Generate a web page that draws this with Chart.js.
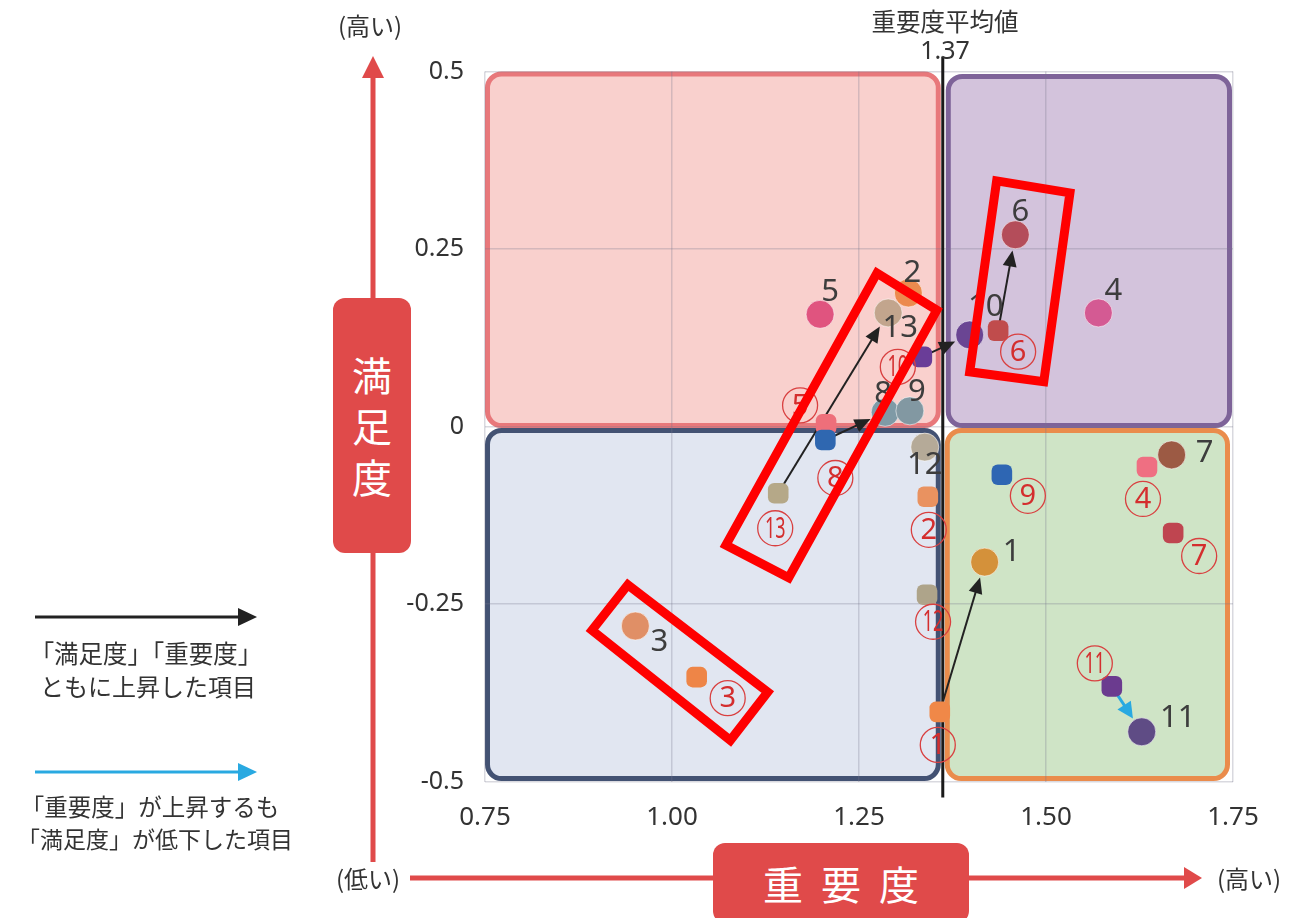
<!DOCTYPE html>
<html lang="ja">
<head>
<meta charset="utf-8">
<script src="https://cdn.jsdelivr.net/npm/chart.js@4.4.1/dist/chart.umd.min.js"></script>
<style>
  html, body { margin: 0; padding: 0; background: #fff; }
  #wrap { position: relative; width: 1297px; height: 918px; overflow: hidden;
          font-family: "Noto Sans CJK JP", "Noto Sans", sans-serif; color: #333; }
  #chart { position: absolute; left: 0; top: 0; }
  #deco { position: absolute; left: 0; top: 0; }
  .txt { position: absolute; white-space: nowrap; transform: translate(-50%, -50%); line-height: 1; }
  .redbox { position: absolute; background: #e04a4a; border-radius: 12px; color: #fff;
            display: flex; align-items: center; justify-content: center; font-size: 40px; }
</style>
</head>
<body>
<div id="wrap">
  <canvas id="chart" width="1297" height="918"></canvas>

  <svg id="deco" width="1297" height="918">
    <!-- satisfaction axis arrow -->
    <line x1="373" y1="862" x2="373" y2="76" stroke="#e04a4a" stroke-width="5"/>
    <polygon points="362,78 384,78 373,56" fill="#e04a4a"/>
    <!-- importance axis arrow -->
    <line x1="410" y1="878" x2="1186" y2="878" stroke="#e04a4a" stroke-width="5"/>
    <polygon points="1184,867 1184,889 1202,878" fill="#e04a4a"/>
    <!-- legend arrows -->
    <line x1="35" y1="617" x2="240" y2="617" stroke="#222" stroke-width="3"/>
    <polygon points="238,608 238,626 257,617" fill="#222"/>
    <line x1="35" y1="772" x2="240" y2="772" stroke="#29a9e1" stroke-width="3"/>
    <polygon points="238,763 238,781 257,772" fill="#29a9e1"/>
  </svg>

  <div class="redbox" style="left:333px; top:298px; width:78px; height:255px; flex-direction:column; line-height:51px;">
    <span>満</span><span>足</span><span>度</span>
  </div>
  <div class="redbox" style="left:713px; top:843px; width:256px; height:80px; letter-spacing:18px; padding-left:18px; box-sizing:border-box;">重要度</div>

  <div class="txt" style="left:370px; top:25px; font-size:24px;">(高い)</div>
  <div class="txt" style="left:368px; top:878px; font-size:24px;">(低い)</div>
  <div class="txt" style="left:1249px; top:878px; font-size:24px;">(高い)</div>

  <div class="txt" style="left:945px; top:21px; font-size:24.5px;">重要度平均値</div>
  <div class="txt" style="left:945px; top:49px; font-size:25px; font-family:'Noto Sans';">1.37</div>

  <div class="txt" style="left:146px; top:653px; font-size:24.5px;">「満足度」「重要度」</div>
  <div class="txt" style="left:148px; top:686px; font-size:24px;">ともに上昇した項目</div>
  <div class="txt" style="left:150px; top:807px; font-size:23.5px;">「重要度」が上昇するも</div>
  <div class="txt" style="left:155px; top:838px; font-size:23px;">「満足度」が低下した項目</div>
</div>

<script>
// ---- data ----
const items = ['1', '2', '3', '4', '5', '6', '7', '8', '9', '10', '11', '12', '13'];

// this year (circles)
const currImportance   = [1.418, 1.316, 0.951, 1.570, 1.198, 1.459, 1.668, 1.285, 1.318, 1.398, 1.628, 1.338, 1.289];
const currSatisfaction = [-0.191, 0.188, -0.281, 0.160, 0.158, 0.270, -0.040, 0.020, 0.022, 0.129, -0.430, -0.029, 0.160];

// previous survey (squares, circled numbers)
const prevImportance   = [1.358, 1.342, 1.033, 1.635, 1.206, 1.436, 1.670, 1.205, 1.441, 1.334, 1.588, 1.341, 1.142];
const prevSatisfaction = [-0.402, -0.099, -0.353, -0.057, 0.003, 0.135, -0.150, -0.019, -0.068, 0.098, -0.366, -0.237, -0.094];

// items with an arrow (index into the arrays above)
const bothUpItems = [0, 5, 7, 9, 12];   // black arrows
const satDownItems = [10];              // blue arrow

const xTicks = [0.75, 1.00, 1.25, 1.50, 1.75];
const xTickLabels = ['0.75', '1.00', '1.25', '1.50', '1.75'];
const yTicks = [-0.5, -0.25, 0, 0.25, 0.5];
const yTickLabels = ['-0.5', '-0.25', '0', '0.25', '0.5'];

const MEAN_IMPORTANCE = 1.362; // where the mean line sits in the picture (labelled 1.37)

// highlight frames (corners in data units)
const highlights = [
    [[0.941, -0.223], [1.128, -0.374], [1.078, -0.442], [0.893, -0.287]],
    [[1.274, 0.216], [1.354, 0.164], [1.156, -0.213], [1.072, -0.167]],
    [[1.434, 0.346], [1.532, 0.329], [1.497, 0.063], [1.398, 0.077]]
];

// ---- styles ----
const currColors = ['#d4913a', '#ec8a4e', '#e08f66', '#d45a93', '#e0547f', '#b44d5a', '#9c5a44',
                    '#7f9aa6', '#8298a2', '#6a4593', '#5f4c85', '#b5aa98', '#c2a58d'];
const prevColors = ['#f08848', '#e99260', '#ee8547', '#ef6f82', '#ee6f7a', '#c04c4c', '#bf4550',
                    '#2f67b0', '#2e66b3', '#6a3d98', '#6b3b8f', '#aea48a', '#b5a888'];
const currLabelOffset = [[27, -10], [4, -20], [24, 16], [15, -22], [10, -22], [5, -23], [33, -2],
                         [-2, -18], [7, -19], [16, -28], [36, -14], [0, 18], [12, 15]];
const prevLabelOffset = [[-2, 33], [1, 33], [31, 21], [-4, 32], [-26, -19], [20, 21], [26, 23],
                         [10, 38], [26, 21], [-24, 10], [-17, -23], [6, 27], [-3, 35]];

const CIRCLE_R = 14;

function roundRect(ctx, x1, y1, x2, y2, r) {
    ctx.beginPath();
    ctx.moveTo(x1 + r, y1);
    ctx.arcTo(x2, y1, x2, y2, r);
    ctx.arcTo(x2, y2, x1, y2, r);
    ctx.arcTo(x1, y2, x1, y1, r);
    ctx.arcTo(x1, y1, x2, y1, r);
    ctx.closePath();
}

function drawArrow(ctx, x1, y1, x2, y2, color, width, head, half) {
    const a = Math.atan2(y2 - y1, x2 - x1);
    const c = Math.cos(a), s = Math.sin(a);
    ctx.strokeStyle = color;
    ctx.fillStyle = color;
    ctx.lineWidth = width;
    ctx.beginPath();
    ctx.moveTo(x1, y1);
    ctx.lineTo(x2 - c * head * 0.8, y2 - s * head * 0.8);
    ctx.stroke();
    ctx.beginPath();
    ctx.moveTo(x2, y2);
    ctx.lineTo(x2 - c * head + s * half, y2 - s * head - c * half);
    ctx.lineTo(x2 - c * head - s * half, y2 - s * head + c * half);
    ctx.closePath();
    ctx.fill();
}

// number in a thin circle, like ①
function circledNumber(ctx, text, cx, cy) {
    ctx.beginPath();
    ctx.arc(cx, cy, 17.5, 0, Math.PI * 2);
    ctx.lineWidth = 1.3;
    ctx.strokeStyle = '#d94040';
    ctx.stroke();
    ctx.fillStyle = '#d42e2e';
    ctx.font = '29px "Noto Sans"';
    ctx.save();
    ctx.translate(cx, cy + 1);
    if (text.length > 1) ctx.scale(0.62, 1);
    ctx.fillText(text, 0, 0);
    ctx.restore();
}

const quadrantPlugin = {
    id: 'quadrants',
    beforeDraw(chart) {
        const { ctx, chartArea: a, scales: { x, y } } = chart;
        const xm = x.getPixelForValue(MEAN_IMPORTANCE);
        const ym = y.getPixelForValue(0);
        const boxes = [
            { r: [a.left + 2.5, a.top + 2.5, xm - 4.5, ym - 1], fill: '#f9d0cd', stroke: '#e8787b' },
            { r: [xm + 5.5, a.top + 5, a.right - 3.5, ym - 1], fill: '#d3c3dc', stroke: '#7e6399' },
            { r: [a.left + 2.5, ym + 4, xm - 4.5, a.bottom - 3], fill: '#e1e6f1', stroke: '#435273' },
            { r: [xm + 4.5, ym + 4, a.right - 5.5, a.bottom - 3], fill: '#cfe4c6', stroke: '#ea8c4c' }
        ];
        ctx.save();
        boxes.forEach(b => {
            roundRect(ctx, b.r[0], b.r[1], b.r[2], b.r[3], 14);
            ctx.fillStyle = b.fill;
            ctx.fill();
            ctx.lineWidth = 5;
            ctx.strokeStyle = b.stroke;
            ctx.stroke();
        });
        ctx.restore();
    },
    beforeDatasetsDraw(chart) {
        const { ctx, chartArea: a, scales: { x, y } } = chart;
        ctx.save();
        // mean importance line
        const xm = x.getPixelForValue(MEAN_IMPORTANCE);
        ctx.strokeStyle = '#1a1a1a';
        ctx.lineWidth = 3;
        ctx.beginPath();
        ctx.moveTo(xm, a.top - 15);
        ctx.lineTo(xm, a.bottom + 16);
        ctx.stroke();

        // arrows previous -> current
        const arrowFor = (i, color, width, head, half) => {
            const x1 = x.getPixelForValue(prevImportance[i]);
            const y1 = y.getPixelForValue(prevSatisfaction[i]);
            const cx = x.getPixelForValue(currImportance[i]);
            const cy = y.getPixelForValue(currSatisfaction[i]);
            const d = Math.hypot(cx - x1, cy - y1);
            const k = (d - CIRCLE_R - 2) / d;
            drawArrow(ctx, x1, y1, x1 + (cx - x1) * k, y1 + (cy - y1) * k, color, width, head, half);
        };
        bothUpItems.forEach(i => arrowFor(i, '#222', 2, 16, 7));
        satDownItems.forEach(i => arrowFor(i, '#29a9e1', 3, 16, 8));
        ctx.restore();
    },
    afterDatasetsDraw(chart) {
        const { ctx, scales: { x, y } } = chart;
        ctx.save();
        ctx.textAlign = 'center';
        ctx.textBaseline = 'middle';

        ctx.font = '31px "Noto Sans"';
        ctx.fillStyle = '#3d3d3d';
        items.forEach((t, i) => {
            const px = x.getPixelForValue(currImportance[i]);
            const py = y.getPixelForValue(currSatisfaction[i]);
            ctx.fillText(t, px + currLabelOffset[i][0], py + currLabelOffset[i][1]);
        });

        items.forEach((t, i) => {
            const px = x.getPixelForValue(prevImportance[i]);
            const py = y.getPixelForValue(prevSatisfaction[i]);
            circledNumber(ctx, t, px + prevLabelOffset[i][0], py + prevLabelOffset[i][1]);
        });

        // red highlight frames
        ctx.strokeStyle = '#ff0000';
        ctx.lineWidth = 9;
        ctx.lineJoin = 'miter';
        highlights.forEach(poly => {
            ctx.beginPath();
            poly.forEach((p, k) => {
                const px = x.getPixelForValue(p[0]);
                const py = y.getPixelForValue(p[1]);
                if (k === 0) ctx.moveTo(px, py); else ctx.lineTo(px, py);
            });
            ctx.closePath();
            ctx.stroke();
        });
        ctx.restore();
    }
};

new Chart(document.getElementById('chart'), {
    type: 'scatter',
    data: {
        datasets: [
            {
                label: '今回',
                data: currImportance.map((v, i) => ({ x: v, y: currSatisfaction[i] })),
                pointStyle: 'circle',
                pointRadius: CIRCLE_R,
                backgroundColor: currColors,
                borderColor: 'rgba(255,255,255,0.55)',
                borderWidth: 1
            },
            {
                label: '前回',
                data: prevImportance.map((v, i) => ({ x: v, y: prevSatisfaction[i] })),
                pointStyle: 'rectRounded',
                pointRadius: 12,
                backgroundColor: prevColors,
                borderWidth: 0
            }
        ]
    },
    options: {
        responsive: false,
        animation: false,
        devicePixelRatio: 1,
        layout: { padding: { top: 71.5, right: 64, bottom: 0, left: 0 } },
        plugins: {
            legend: { display: false },
            tooltip: { enabled: false }
        },
        scales: {
            x: {
                type: 'linear',
                min: 0.75,
                max: 1.75,
                afterBuildTicks: s => { s.ticks = xTicks.map(v => ({ value: v })); },
                afterFit: s => { s.height = 136.5; },
                ticks: {
                    callback: (v, i) => xTickLabels[i],
                    font: { size: 26, family: 'Noto Sans' },
                    color: '#333',
                    padding: 20
                },
                grid: { color: 'rgba(120,120,140,0.28)', lineWidth: 1.5, drawTicks: false },
                border: { display: false }
            },
            y: {
                type: 'linear',
                min: -0.5,
                max: 0.5,
                afterBuildTicks: s => { s.ticks = yTicks.map(v => ({ value: v })); },
                afterFit: s => { s.width = 485; },
                ticks: {
                    callback: (v, i) => yTickLabels[i],
                    font: { size: 25, family: 'Noto Sans' },
                    color: '#333',
                    padding: 21
                },
                grid: { color: 'rgba(120,120,140,0.28)', lineWidth: 1.5, drawTicks: false },
                border: { display: false }
            }
        }
    },
    plugins: [quadrantPlugin]
});
</script>
</body>
</html>
